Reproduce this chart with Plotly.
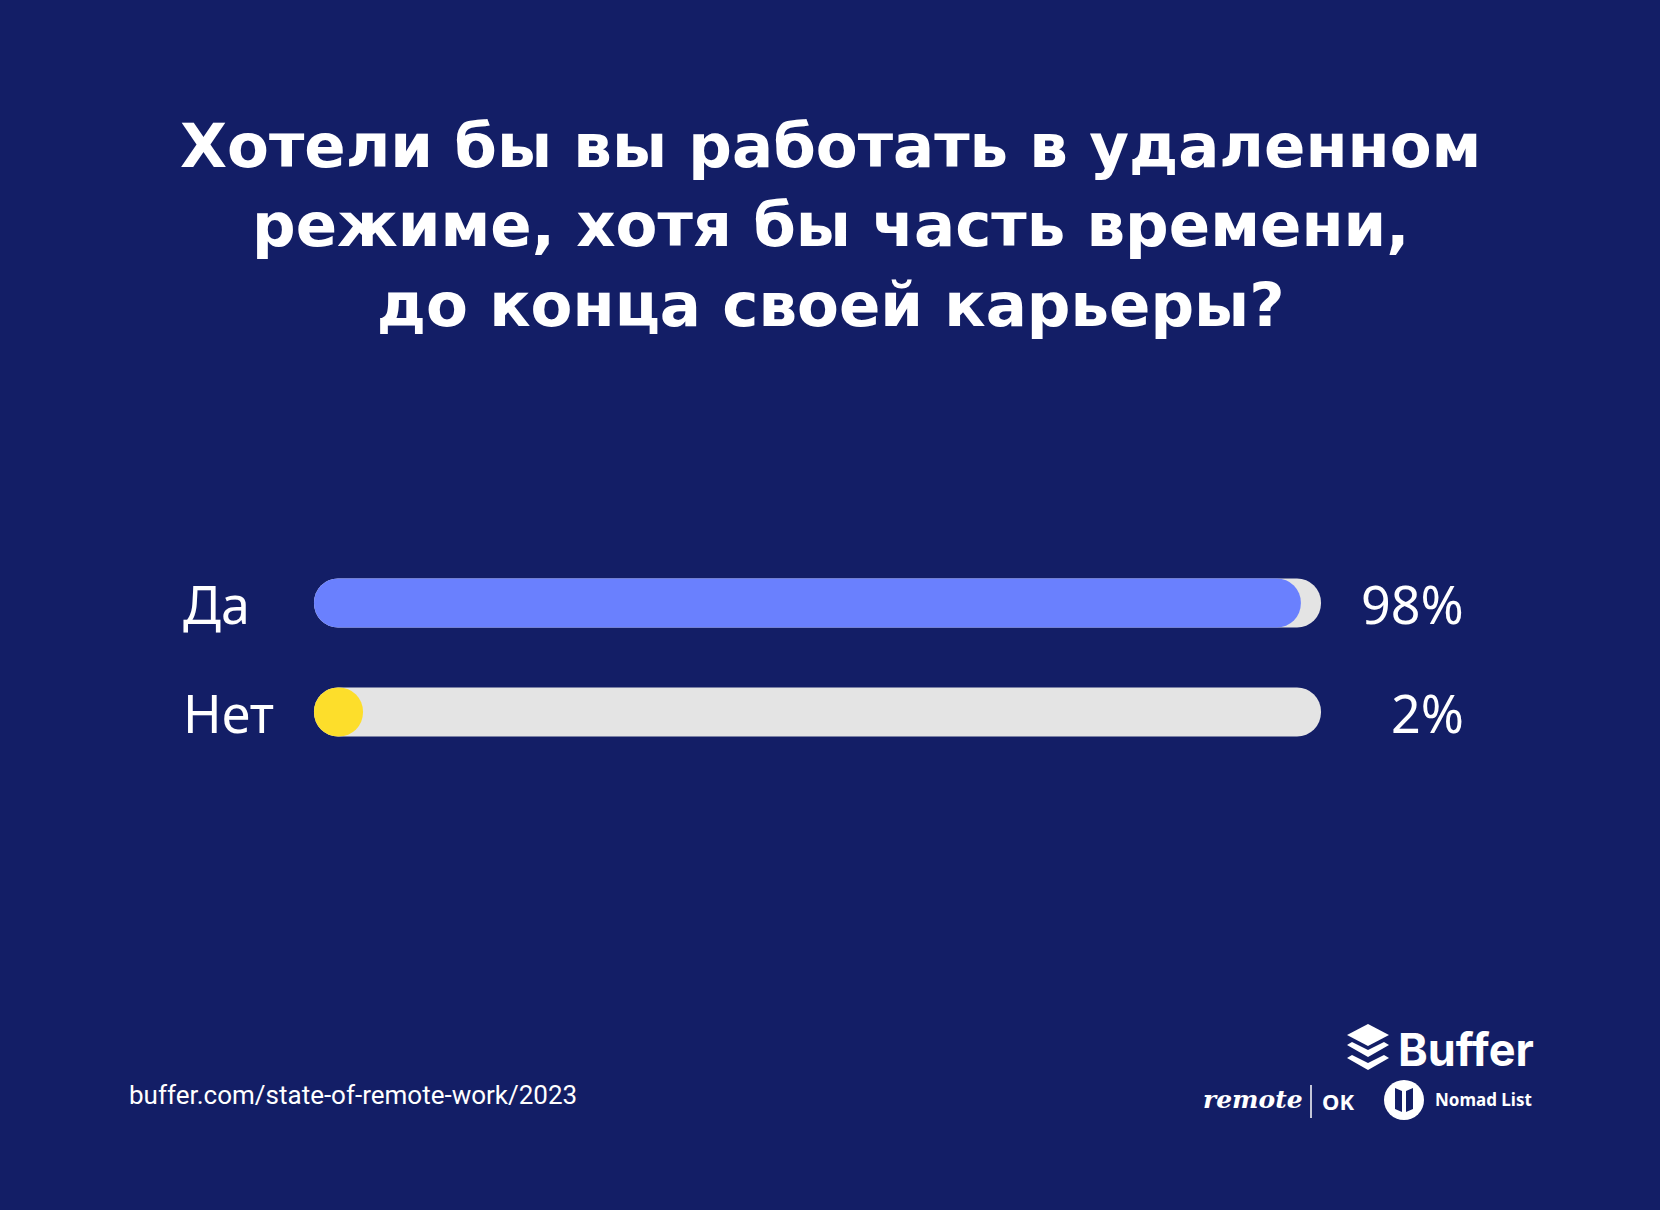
import plotly.graph_objects as go

# ---- data ----
categories = ["Да", "Нет"]
values = [98, 2]
track_values = [100, 100]
title_lines = [
    "Хотели бы вы работать в удаленном",
    "режиме, хотя бы часть времени,",
    "до конца своей карьеры?",
]
source_text = "buffer.com/state-of-remote-work/2023"

# ---- style ----
BG = "#131E66"
TRACK = "#E4E4E4"
BAR_COLORS = ["#6A80FE", "#FDDE2B"]
W, H = 1660, 1210
BAR_W = 0.45
BAR_PX = 49
X0_PX, X100_PX = 314, 1321
PPU = (X100_PX - X0_PX) / 100.0
CAT_PX = 109.0           # pixels between category centres
FIRST_CAT_PX = 603.0     # pixel row of first category


def px(x):
    return x / W


def py(y):
    return 1 - y / H


# a pill can never be shorter than it is thick (small shares render as a dot)
min_len = BAR_PX / PPU
drawn_values = [max(v, min_len) for v in values]

fig = go.Figure()
fig.add_trace(go.Bar(
    y=categories, x=track_values, orientation="h", base=0,
    marker=dict(color=TRACK, cornerradius="50%", line=dict(width=0)),
    width=BAR_W, hoverinfo="skip", showlegend=False,
))
fig.add_trace(go.Bar(
    y=categories, x=drawn_values, orientation="h", base=0,
    marker=dict(color=BAR_COLORS, cornerradius="50%", line=dict(width=0)),
    width=BAR_W, hoverinfo="skip", showlegend=False,
))

annotations = []
for c, v in zip(categories, values):
    annotations.append(dict(
        text=c, xref="paper", yref="y", x=px(181), y=c, xanchor="left", yanchor="middle",
        showarrow=False, font=dict(family="Noto Sans", size=52, color="white"),
    ))
    annotations.append(dict(
        text=f"{v}%", xref="paper", yref="y", x=px(1466), y=c, xanchor="right", yanchor="middle",
        showarrow=False, font=dict(family="Noto Sans", size=52, color="white"),
    ))

annotations.append(dict(
    text="<b>" + "<br>".join(title_lines) + "</b>", xref="paper", yref="paper",
    x=px(830), y=py(225), xanchor="center", yanchor="middle", align="center", showarrow=False,
    font=dict(family="DejaVu Sans", size=61, color="white"),
))
annotations.append(dict(
    text=source_text, xref="paper", yref="paper", x=px(127), y=py(1095),
    xanchor="left", yanchor="middle", showarrow=False,
    font=dict(family="Roboto", size=26, color="white"),
))
# logos as text
annotations.append(dict(
    text="<b>Buffer</b>", xref="paper", yref="paper", x=px(1396), y=py(1049),
    xanchor="left", yanchor="middle", showarrow=False,
    font=dict(family="Inter", size=45, color="white"),
))
annotations.append(dict(
    text="<b><i>remote</i></b>", xref="paper", yref="paper", x=px(1201), y=py(1099),
    xanchor="left", yanchor="middle", showarrow=False,
    font=dict(family="DejaVu Serif", size=25, color="white"),
))
annotations.append(dict(
    text="<b>OK</b>", xref="paper", yref="paper", x=px(1320), y=py(1101),
    xanchor="left", yanchor="middle", showarrow=False,
    font=dict(family="Noto Sans", size=22, color="white"),
))
annotations.append(dict(
    text="<b>Nomad List</b>", xref="paper", yref="paper", x=px(1433), y=py(1099),
    xanchor="left", yanchor="middle", showarrow=False,
    font=dict(family="Noto Sans", size=17, color="white"),
))


def poly(pts):
    return "M " + " L ".join(f"{px(x):.5f},{py(y):.5f}" for x, y in pts) + " Z"


shapes = [
    # Buffer layered icon
    dict(type="path", xref="paper", yref="paper", fillcolor="white", line=dict(width=0),
         path=poly([(1368, 1024), (1389, 1035), (1368, 1046), (1347, 1035)])),
    dict(type="path", xref="paper", yref="paper", fillcolor="white", line=dict(width=0),
         path=poly([(1347, 1045), (1352, 1042), (1368, 1050), (1384, 1042), (1389, 1045), (1368, 1057)])),
    dict(type="path", xref="paper", yref="paper", fillcolor="white", line=dict(width=0),
         path=poly([(1347, 1058), (1352, 1055), (1368, 1063), (1384, 1055), (1389, 1058), (1368, 1070)])),
    # remote | OK divider
    dict(type="line", xref="paper", yref="paper", x0=px(1311), x1=px(1311), y0=py(1085), y1=py(1118),
         line=dict(color="white", width=1.5)),
    # Nomad List circle
    dict(type="circle", xref="paper", yref="paper", fillcolor="white", line=dict(width=0),
         x0=px(1384), x1=px(1424), y0=py(1080), y1=py(1120)),
    dict(type="path", xref="paper", yref="paper", fillcolor=BG, line=dict(width=0),
         path=poly([(1395, 1088), (1402, 1091), (1402, 1112), (1395, 1109)])),
    dict(type="path", xref="paper", yref="paper", fillcolor=BG, line=dict(width=0),
         path=poly([(1406, 1091), (1413, 1088), (1413, 1109), (1406, 1112)])),
]

# axis ranges that put x=0 / x=100 and the categories at the reference pixel positions
x_range = [-X0_PX / PPU, (W - X0_PX) / PPU]
y_top = -FIRST_CAT_PX / CAT_PX
y_bottom = y_top + H / CAT_PX

fig.update_layout(
    width=W, height=H,
    margin=dict(l=0, r=0, t=0, b=0),
    paper_bgcolor=BG, plot_bgcolor=BG,
    barmode="overlay",
    xaxis=dict(range=x_range, visible=False, fixedrange=True),
    yaxis=dict(type="category", categoryarray=categories, categoryorder="array",
               range=[y_bottom, y_top], visible=False, fixedrange=True),
    annotations=annotations,
    shapes=shapes,
    showlegend=False,
)

fig.write_html("out.html", config={"displayModeBar": False},
               post_script="document.body.style.margin='0';")
